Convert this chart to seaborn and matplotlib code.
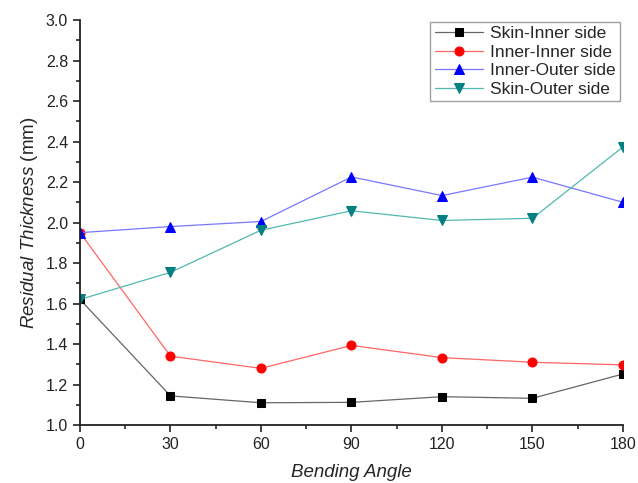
import pandas as pd
import matplotlib.pyplot as plt
import seaborn as sns
from matplotlib.ticker import MultipleLocator, FormatStrFormatter

angles = [0, 30, 60, 90, 120, 150, 180]
skin_inner = [1.62, 1.144, 1.11, 1.112, 1.14, 1.132, 1.252]
inner_inner = [1.95, 1.34, 1.28, 1.393, 1.333, 1.31, 1.297]
inner_outer = [1.95, 1.98, 2.005, 2.225, 2.133, 2.224, 2.10]
skin_outer = [1.62, 1.754, 1.962, 2.058, 2.01, 2.021, 2.373]

series_names = ['Skin-Inner side', 'Inner-Inner side', 'Inner-Outer side', 'Skin-Outer side']
series_vals = [skin_inner, inner_inner, inner_outer, skin_outer]
marker_colors = ['#000000', '#ff0000', '#0000ff', '#008080']
line_colors = ['#666666', '#ff6666', '#7777ff', '#50b8b0']
markers = ['s', 'o', '^', 'v']
msizes = [5.5, 6.5, 7, 7]

rows = []
for name, vals in zip(series_names, series_vals):
    for a, v in zip(angles, vals):
        rows.append({'angle': a, 'thickness': v, 'series': name})
df = pd.DataFrame(rows)

sns.set_style("ticks")
plt.rcParams['font.family'] = ['Liberation Sans', 'DejaVu Sans']
plt.rcParams['mathtext.fontset'] = 'custom'
plt.rcParams['mathtext.it'] = 'Liberation Sans:italic'
plt.rcParams['mathtext.rm'] = 'Liberation Sans'

fig = plt.figure(figsize=(6.38, 4.83), dpi=100)
ax = fig.add_axes([0.1254, 0.12, 0.851, 0.8386])

for name, mc, lc, mk, ms in zip(series_names, marker_colors, line_colors, markers, msizes):
    sns.lineplot(data=df[df['series'] == name], x='angle', y='thickness', ax=ax,
                 color=lc, linewidth=0.9, marker=mk, markersize=ms,
                 markerfacecolor=mc, markeredgecolor=mc, label=name)

ax.set_xlim(0, 180)
ax.set_ylim(1.0, 3.0)
ax.xaxis.set_major_locator(MultipleLocator(30))
ax.xaxis.set_minor_locator(MultipleLocator(15))
ax.yaxis.set_major_locator(MultipleLocator(0.2))
ax.yaxis.set_minor_locator(MultipleLocator(0.1))
ax.yaxis.set_major_formatter(FormatStrFormatter('%.1f'))
ax.tick_params(which='major', direction='out', length=5, width=1.2, labelsize=11.5, colors='#222222')
ax.tick_params(which='minor', direction='out', length=3, width=1.2)
for s in ['left', 'bottom']:
    ax.spines[s].set_linewidth(1.3)
    ax.spines[s].set_color('#222222')
sns.despine(ax=ax)

ax.set_xlabel('Bending Angle', fontsize=13.5, style='italic', labelpad=9)
ax.set_ylabel(r'$\it{Residual\ Thickness}$ (mm)', fontsize=13.5, labelpad=4)

leg = ax.legend(loc='upper right', bbox_to_anchor=(0.998, 1.0), fontsize=12.5, frameon=True,
                fancybox=False, edgecolor='#888888', borderpad=0.25, labelspacing=0.2,
                handlelength=2.8, handletextpad=0.4, borderaxespad=0.1)
leg.get_frame().set_linewidth(1.0)

fig.savefig('out.png', dpi=100)
